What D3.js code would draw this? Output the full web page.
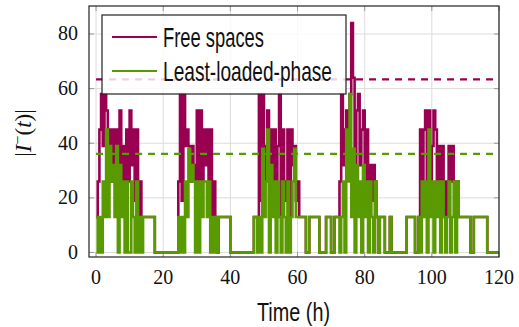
<!DOCTYPE html>
<html>
<head>
<meta charset="utf-8">
<script src="https://cdn.jsdelivr.net/npm/d3@7"></script>
<style>
  body { margin: 0; background: #fff; }
  svg { display: block; }
  .tick-label { font-family: "Liberation Serif", "DejaVu Serif", serif; font-size: 20px; fill: #111; }
  .cond { font-family: "Liberation Sans Narrow", "Liberation Sans", sans-serif; fill: #111; }
</style>
</head>
<body>
<script>
"use strict";

// half-hour samples, t = 0, 0.5, ..., 120
const stepHours = 0.5;

const leastLoaded = [
    13, 0, 13, 0, 26, 13,      // 0-3
    45, 13, 39, 26, 32, 13,    // 3-6
    39, 0, 32, 13, 26, 0,      // 6-9
    26, 0, 0, 26, 13, 0,       // 9-12
    26, 0, 13, 0, 13, 13,      // 12-15
    13, 13, 13, 13, 13, 0,     // 15-18
    0, 0, 0, 0, 0, 0,          // 18-21
    0, 0, 0, 0, 0, 0,          // 21-24
    0, 13, 0, 13, 0, 26,       // 24-27
    13, 38, 26, 32, 26, 0,     // 27-30
    26, 0, 26, 13, 26, 26,     // 30-33
    13, 26, 0, 13, 0, 13,      // 33-36
    0, 13, 13, 13, 13, 13,     // 36-39
    13, 13, 0, 0, 0, 0,        // 39-42
    0, 0, 0, 0, 0, 0,          // 42-45
    0, 0, 0, 0, 13, 13,        // 45-48
    0, 13, 0, 38, 13, 26,      // 48-51
    45, 0, 32, 13, 26, 0,      // 51-54
    26, 13, 0, 26, 13, 0,      // 54-57
    26, 0, 13, 26, 38, 13,     // 57-60
    13, 13, 13, 13, 13, 0,     // 60-63
    0, 13, 13, 13, 13, 13,     // 63-66
    13, 0, 0, 0, 0, 13,        // 66-69
    13, 13, 0, 0, 13, 13,      // 69-72
    13, 0, 13, 26, 0, 45,      // 72-75
    26, 58, 13, 38, 0, 32,     // 75-78
    13, 26, 0, 32, 13, 26,     // 78-81
    0, 26, 13, 0, 26, 13,      // 81-84
    0, 13, 13, 13, 0, 0,       // 84-87
    0, 13, 0, 0, 0, 0,         // 87-90
    0, 0, 0, 0, 0, 13,         // 90-93
    13, 13, 13, 13, 0, 0,      // 93-96
    13, 0, 26, 13, 26, 0,      // 96-99
    45, 13, 26, 0, 26, 13,     // 99-102
    26, 0, 26, 13, 0, 13,      // 102-105
    26, 0, 13, 26, 0, 26,      // 105-108
    13, 13, 13, 13, 13, 13,    // 108-111
    13, 0, 0, 13, 13, 13,      // 111-114
    13, 13, 13, 13, 13, 0,     // 114-117
    0, 0, 0, 0, 0, 0,          // 117-120
    0
];

const freeSpaces = [
    13, 26, 45, 58, 39, 58,    // 0-3
    52, 26, 45, 26, 45, 26,    // 3-6
    45, 19, 52, 26, 39, 13,    // 6-9
    45, 26, 52, 32, 45, 19,    // 9-12
    45, 13, 26, 13, 13, 13,    // 12-15
    13, 13, 13, 13, 13, 0,     // 15-18
    0, 0, 0, 0, 0, 0,          // 18-21
    0, 0, 0, 0, 0, 0,          // 21-24
    0, 26, 58, 19, 58, 39,     // 24-27
    45, 39, 26, 39, 32, 26,    // 27-30
    52, 19, 52, 26, 45, 32,    // 30-33
    45, 26, 45, 13, 26, 13,    // 33-36
    0, 13, 13, 13, 13, 13,     // 36-39
    13, 13, 0, 0, 0, 0,        // 39-42
    0, 0, 0, 0, 0, 0,          // 42-45
    0, 0, 0, 0, 13, 13,        // 45-48
    13, 58, 19, 58, 26, 39,    // 48-51
    52, 13, 45, 19, 45, 13,    // 51-54
    39, 58, 13, 45, 26, 19,    // 54-57
    45, 13, 45, 32, 39, 19,    // 57-60
    26, 13, 13, 13, 13, 0,     // 60-63
    0, 13, 13, 13, 13, 13,     // 63-66
    13, 0, 0, 0, 0, 13,        // 66-69
    13, 13, 0, 0, 13, 13,      // 69-72
    13, 26, 58, 32, 45, 52,    // 72-75
    45, 58, 84, 64, 26, 52,    // 75-78
    58, 32, 45, 52, 19, 45,    // 78-81
    26, 32, 19, 32, 26, 13,    // 81-84
    0, 13, 13, 13, 0, 0,       // 84-87
    0, 13, 0, 0, 0, 0,         // 87-90
    0, 0, 0, 0, 0, 13,         // 90-93
    13, 13, 13, 13, 0, 0,      // 93-96
    13, 45, 26, 45, 52, 19,    // 96-99
    52, 26, 39, 52, 45, 26,    // 99-102
    39, 13, 39, 26, 13, 26,    // 102-105
    39, 26, 39, 26, 26, 26,    // 105-108
    13, 13, 13, 13, 13, 13,    // 108-111
    13, 0, 0, 13, 13, 13,      // 111-114
    13, 13, 13, 13, 13, 0,     // 114-117
    0, 0, 0, 0, 0, 0,          // 117-120
    0
];

// reference levels (dashed)
const freeSpacesRef = 63.4;
const leastLoadedRef = 36.1;

const xTicks = [0, 20, 40, 60, 80, 100, 120];
const yTicks = [0, 20, 40, 60, 80];

const seriesNames = ["Free spaces", "Least-loaded-phase"];
const colors = { free: "#990052", least: "#589a00" };

const width = 519, height = 327;
const plot = { left: 89, right: 499, top: 6, bottom: 257 };

const svg = d3.select("body").append("svg")
    .attr("width", width)
    .attr("height", height);

const x = d3.scaleLinear().domain([-2.1, 120]).range([plot.left, plot.right]);
const y = d3.scaleLinear().domain([-1.65, 90.25]).range([plot.bottom, plot.top]);

// grid
const grid = svg.append("g").attr("class", "grid");
grid.selectAll("line.vx").data(xTicks).enter().append("line")
    .attr("x1", d => x(d)).attr("x2", d => x(d))
    .attr("y1", plot.top).attr("y2", plot.bottom)
    .attr("stroke", "#dcdcdc").attr("stroke-width", 1);
grid.selectAll("line.hy").data(yTicks).enter().append("line")
    .attr("y1", d => y(d)).attr("y2", d => y(d))
    .attr("x1", plot.left).attr("x2", plot.right)
    .attr("stroke", "#dcdcdc").attr("stroke-width", 1);

// tick marks inside, all four sides
const tickLen = 5;
const ticks = svg.append("g").attr("stroke", "#999").attr("stroke-width", 1);
xTicks.forEach(d => {
    ticks.append("line").attr("x1", x(d)).attr("x2", x(d)).attr("y1", plot.bottom).attr("y2", plot.bottom - tickLen);
    ticks.append("line").attr("x1", x(d)).attr("x2", x(d)).attr("y1", plot.top).attr("y2", plot.top + tickLen);
});
yTicks.forEach(d => {
    ticks.append("line").attr("y1", y(d)).attr("y2", y(d)).attr("x1", plot.left).attr("x2", plot.left + tickLen);
    ticks.append("line").attr("y1", y(d)).attr("y2", y(d)).attr("x1", plot.right).attr("x2", plot.right - tickLen);
});

// data lines
const clipId = "plotclip";
svg.append("clipPath").attr("id", clipId).append("rect")
    .attr("x", plot.left).attr("y", plot.top)
    .attr("width", plot.right - plot.left).attr("height", plot.bottom - plot.top);

const line = d3.line()
    .x((d, i) => x(i * stepHours))
    .y(d => y(d))
    .curve(d3.curveStepAfter);

const dataG = svg.append("g").attr("clip-path", `url(#${clipId})`);
dataG.append("path").datum(freeSpaces)
    .attr("d", line).attr("fill", "none")
    .attr("stroke", colors.free).attr("stroke-width", 2.6);
dataG.append("path").datum(leastLoaded)
    .attr("d", line).attr("fill", "none")
    .attr("stroke", colors.least).attr("stroke-width", 2.6);

// dashed reference levels
dataG.append("line")
    .attr("x1", x(0)).attr("x2", x(120))
    .attr("y1", y(freeSpacesRef)).attr("y2", y(freeSpacesRef))
    .attr("stroke", colors.free).attr("stroke-width", 2.4).attr("stroke-dasharray", "7,6");
dataG.append("line")
    .attr("x1", x(0)).attr("x2", x(120))
    .attr("y1", y(leastLoadedRef)).attr("y2", y(leastLoadedRef))
    .attr("stroke", colors.least).attr("stroke-width", 2.4).attr("stroke-dasharray", "7,6");

// frame
svg.append("rect")
    .attr("x", plot.left).attr("y", plot.top)
    .attr("width", plot.right - plot.left).attr("height", plot.bottom - plot.top)
    .attr("fill", "none").attr("stroke", "#222").attr("stroke-width", 1.2);

// tick labels
svg.selectAll("text.xl").data(xTicks).enter().append("text")
    .attr("class", "tick-label")
    .attr("x", d => x(d)).attr("y", 284)
    .attr("text-anchor", "middle")
    .text(d => d);
svg.selectAll("text.yl").data(yTicks).enter().append("text")
    .attr("class", "tick-label")
    .attr("x", 78).attr("y", d => y(d) + 6.5)
    .attr("text-anchor", "end")
    .text(d => d);

// axis titles
svg.append("text").attr("class", "cond")
    .attr("x", 257).attr("y", 321)
    .attr("font-size", 26)
    .attr("textLength", 73).attr("lengthAdjust", "spacingAndGlyphs")
    .text("Time (h)");

const yTitle = svg.append("text")
    .attr("transform", "translate(31,133) rotate(-90)")
    .attr("text-anchor", "middle")
    .attr("font-family", "Liberation Serif, DejaVu Serif, serif")
    .attr("font-size", 23)
    .attr("fill", "#111");
yTitle.append("tspan").text("|");
yTitle.append("tspan").attr("font-style", "italic").text("I");
yTitle.append("tspan").attr("font-size", 16).attr("dy", -8).text("−");
yTitle.append("tspan").attr("dy", 8).text("(");
yTitle.append("tspan").attr("font-style", "italic").text("t");
yTitle.append("tspan").text(")|");

// legend
const legend = svg.append("g").attr("transform", "translate(102,15)");
legend.append("rect")
    .attr("width", 244).attr("height", 79)
    .attr("fill", "#fff").attr("fill-opacity", 0.82)
    .attr("stroke", "#222").attr("stroke-width", 1.2);
const legendRows = [
    { name: seriesNames[0], color: colors.free, len: 101 },
    { name: seriesNames[1], color: colors.least, len: 169 }
];
legendRows.forEach((r, i) => {
    const cy = 22 + i * 34;
    legend.append("line")
        .attr("x1", 10).attr("x2", 55).attr("y1", cy).attr("y2", cy)
        .attr("stroke", r.color).attr("stroke-width", 2.2);
    legend.append("text").attr("class", "cond")
        .attr("x", 61).attr("y", cy + 10)
        .attr("font-size", 28)
        .attr("textLength", r.len).attr("lengthAdjust", "spacingAndGlyphs")
        .text(r.name);
});
</script>
</body>
</html>
